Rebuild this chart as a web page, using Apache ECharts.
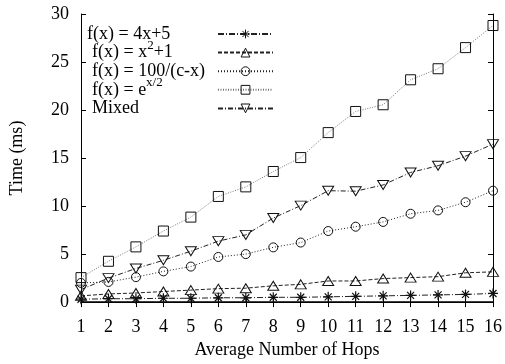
<!DOCTYPE html>
<html>
<head>
<meta charset="utf-8">
<script src="https://cdn.jsdelivr.net/npm/echarts@6/dist/echarts.min.js"></script>
<style>html,body{margin:0;padding:0;background:#fff;}#c{width:505px;height:364px;}</style>
</head>
<body>
<div id="c"></div>
<script>
var hops = [1,2,3,4,5,6,7,8,9,10,11,12,13,14,15,16];
var linearVals = [0.3,0.35,0.35,0.4,0.4,0.45,0.45,0.5,0.5,0.55,0.6,0.65,0.7,0.75,0.8,0.9];
var squareVals = [0.65,0.85,0.95,1.1,1.25,1.4,1.45,1.7,1.85,2.2,2.2,2.45,2.55,2.65,3.05,3.15];
var inverseVals = [2.0,2.1,2.6,3.2,3.7,4.7,5.0,5.7,6.2,7.4,7.85,8.35,9.2,9.55,10.4,11.6];
var expVals = [2.55,4.25,5.75,7.4,8.85,11.0,12.0,13.6,15.05,17.65,19.85,20.55,23.15,24.3,26.5,28.8];
var mixedVals = [1.3,2.5,3.5,4.35,5.3,6.35,7.0,8.75,10.05,11.6,11.55,12.2,13.5,14.2,15.2,16.45];
var seriesNames = ['f(x) = 4x+5','f(x) = x^2+1','f(x) = 100/(c-x)','f(x) = e^x/2','Mixed'];
// legend pieces: [base text, superscript, base text after]
var legendParts = [['f(x) = 4x+5','',''],['f(x) = x','2','+1'],['f(x) = 100/(c-x)','',''],['f(x) = e','x/2',''],['Mixed','','']];
var xTitle = 'Average Number of Hops';
var yTitle = 'Time (ms)';

function pairs(vals){ return hops.map(function(h,i){ return [h, vals[i]]; }); }

var FONT = '"Liberation Serif", "DejaVu Serif", serif';
var starPath = 'path://M0,-10L0,10M-10,0L10,0M-7,-7L7,7M-7,7L7,-7';
var downTri = 'path://M0,0L20,0L10,17Z';
var TEXT_W = 126;

var ctx = document.createElement('canvas').getContext('2d');
function tw(s, size){ ctx.font = size + 'px ' + FONT; return ctx.measureText(s).width; }
function legendInfo(name){
  var i = seriesNames.indexOf(name);
  var p = legendParts[i];
  var lead = i === 0 ? 0 : 5;
  var w = lead + tw(p[0],18) + tw(p[1],13) + tw(p[2],18);
  var s = '';
  if (lead) s += '{lead| }';
  s += '{t|' + p[0] + '}';
  if (p[1]) s += '{sup|' + p[1] + '}';
  if (p[2]) s += '{t|' + p[2] + '}';
  s += '{pad| }';
  return {s: s, padW: Math.max(1, TEXT_W - w), lead: lead};
}

function mk(name, vals, symbol, size, dash, color, bw){
  return {
    name: name, type: 'line', data: pairs(vals),
    symbol: symbol, symbolSize: size,
    showAllSymbol: true,
    lineStyle: {color: color, width: 1, type: dash},
    itemStyle: {color: 'transparent', borderColor: '#111', borderWidth: bw || 1},
    emphasis: {disabled: true},
    animation: false, z: 3
  };
}

var chart = echarts.init(document.getElementById('c'), null, {renderer: 'canvas'});
var axisCommon = {
  type: 'value', splitLine: {show: false},
  axisLine: {show: true, lineStyle: {color: '#000', width: 1}},
  axisTick: {show: true, inside: true, length: 5, lineStyle: {color: '#000'}},
  axisLabel: {show: false}
};
var LH = 28;
function richFor(info){
  return {
    t: {fontFamily: FONT, fontSize: 18, color: '#000', lineHeight: LH},
    sup: {fontFamily: FONT, fontSize: 13, color: '#000', lineHeight: 2, verticalAlign: 'top'},
    lead: {fontFamily: FONT, fontSize: 18, width: Math.max(info.lead, 1), lineHeight: LH},
    pad: {fontFamily: FONT, fontSize: 18, width: info.padW, lineHeight: LH}
  };
}
chart.setOption({
  animation: false,
  backgroundColor: '#fff',
  grid: {left: 80, right: 9, top: 14, bottom: 57},
  legend: {
    left: 87, top: 20, orient: 'vertical', align: 'right',
    itemWidth: 55, itemHeight: 11, itemGap: 18.6 - LH, padding: 0,
    itemStyle: {color: 'transparent', borderColor: '#111', borderWidth: 1},
    data: seriesNames.map(function(n){
      var info = legendInfo(n);
      return {name: n, textStyle: {rich: richFor(info)}};
    }),
    formatter: function(n){ return legendInfo(n).s; },
    textStyle: {fontFamily: FONT, fontSize: 18, color: '#000', lineHeight: LH}
  },
  xAxis: [
    Object.assign({}, axisCommon, {
      position: 'bottom', min: 1, max: 16, interval: 1,
      axisLine: {show: true, lineStyle: {color: '#000', width: 1.5}},
      axisLabel: {show: true, fontFamily: FONT, fontSize: 18, color: '#000', margin: 16},
      name: xTitle, nameLocation: 'middle', nameGap: 37,
      nameTextStyle: {fontFamily: FONT, fontSize: 18, color: '#000'}
    }),
    Object.assign({}, axisCommon, {position: 'top', min: 1, max: 16, interval: 1})
  ],
  yAxis: [
    Object.assign({}, axisCommon, {
      position: 'left', min: 0, max: 30, interval: 5,
      axisLabel: {show: true, fontFamily: FONT, fontSize: 18, color: '#000', margin: 12},
      name: yTitle, nameLocation: 'middle', nameGap: 55,
      nameTextStyle: {fontFamily: FONT, fontSize: 18, color: '#000'}
    }),
    Object.assign({}, axisCommon, {position: 'right', min: 0, max: 30, interval: 5})
  ],
  series: [
    mk(seriesNames[0], linearVals, starPath, 10, [6,2,1,2], '#222', 1.2),
    mk(seriesNames[1], squareVals, 'triangle', [11,9], [4,2], '#222'),
    mk(seriesNames[2], inverseVals, 'circle', 9, [1,2], '#222'),
    mk(seriesNames[3], expVals, 'rect', 10, [1,1.5], '#777'),
    mk(seriesNames[4], mixedVals, downTri, [11,9], [5,2,1,2], '#222')
  ]
});
</script>
</body>
</html>
